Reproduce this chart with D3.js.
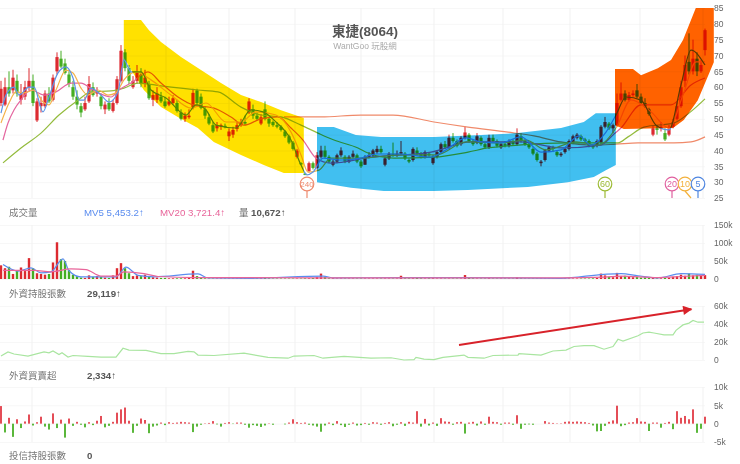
<!DOCTYPE html>
<html>
<head>
<meta charset="utf-8">
<script src="https://cdnjs.cloudflare.com/ajax/libs/d3/7.8.5/d3.min.js"></script>
<style>
  html, body { margin: 0; padding: 0; background: #fff; }
  svg { display: block; filter: blur(0.45px); }
  text { font-family: "Liberation Sans", "Noto Sans CJK TC", sans-serif; }
  .axis text { fill: #666; font-size: 8.5px; }
  .axis line { stroke: #f7f7f7; }
  .axis path { display: none; }
  .grid line { stroke: #f1f1f1; }
  .band { mix-blend-mode: multiply; }
</style>
</head>
<body>
<div id="chart"></div>
<script>
// daily candles, one entry per trading day
const opens = [55,54.5,60,59,62,56,57,60,62,49.5,54,54,58,56,65,69,67.5,64,60,57,
  54,53,55.5,60,58,57,53,55,52.5,55,62,71,66,60,62,64,61,61,56,56,
  57,55.5,54.5,55,55,52,50,50.5,53.7,59,57,53,50.5,48,47,47.5,47.8,44.5,45,46.8,
  48,49,52,53,51,48.5,53,50,49,48,47.5,46,44.5,42.5,38,36,32.7,33.5,36,34.5,
  38,40,38,35.5,36.5,38.5,38,36.5,38,38.5,36.5,35.5,38,38.5,39.5,40.5,35.5,37.5,39,38.5,
  39,39,37,37,40,39,38,39,36,38,39.5,42,41,44,43,42,44,45,43,42.5,
  44,42,41,44,43,41,42,41.5,43,42,44.5,43,42,40.5,39,36,37,40,41,39.5,
  38.5,39.5,40.5,42.5,44,44.5,43.5,43,41.5,41.5,42.5,47.5,48.5,47,48,56,58,56,57.5,59,
  57,55,53,45,47,47,45.5,45,47.5,50,54,62,68,65,69,65,71.7];
const closes = [59.5,60,58,63,58,58,60,62,55,55.5,55,58,55.5,63,69.5,66.5,64.5,61,57,54.5,
  52,55,61,57.5,58.5,54,54.5,53,55,62.5,71.5,66,62,62,64.5,61,63,56.5,57.5,58,
  55.5,54,55.5,56.5,52.5,50,51,51,58.2,55,53.5,51,48.5,46,48,48,47.5,46,46.5,48,
  49,48.5,55.5,51,50,50.5,50,48.5,48,47.5,46.5,44.5,42.5,40.5,40,35.7,32.4,36,34.5,38.5,
  40,38,36.5,36.5,38.5,40,36.5,38,39,36.5,35,38,38.5,40,40.5,39.5,37.5,39,38.5,39,
  39.5,37.5,36.5,40.5,39,38,39.5,38.5,38,39.5,42,41,44,43,41.5,44,45.7,43,42,44.5,
  42,41,44,43,41.5,42,41.5,43,42,45,43,42,41,39,37,36.5,40,41,40.5,38.5,
  39,40.5,43,44.5,45,43.5,43,41.5,41,43,47.5,49,47,48,55,58,56,57.5,58,57,
  55,54,51.5,47,46.5,47.5,43.5,47,49,54,60,67,65,69,65,67,78];
const highs = [62,63,65,65.5,64,61,62,66,64,56.5,57,59,60,64,71,71.5,69,65,62,59,
  55,57,63.5,61.5,60,58,55.5,56.5,56,63.5,73.3,72,67,63.5,67,66,65.5,62,59,60,
  58.5,57,57,57.5,56,53,52,53,59.5,59.5,58,54,51.5,49,49,48.5,48.5,47,47.5,49,
  50,51,56.5,54.5,52,51.5,55.5,50.5,49.5,49,48,46.5,45,43,40.5,36.3,33,36.5,36.5,39.5,
  41.5,41.5,38.5,37,39,41,38.5,38.5,40,39,37,38.5,39.5,40.5,41.5,41.5,38,39.5,42.5,40,
  43,39.5,37.5,41,41,39.5,40,39.5,38.5,40,42.5,43,45,45.5,43.5,44.5,47.6,45.5,43.5,45.5,
  44.5,42.5,45,45,43.5,42.5,43,43.5,43.5,47,45.5,43.5,42.5,41,39.5,37,40.5,41.5,41.5,40,
  39.5,41,43.5,45,45.5,45,44,43.5,42,43.5,48,50.6,49,48.5,58,61.5,59,58.5,59,61,
  58,56.5,53.5,48,48,49,47,48,50,55.5,62,70,77,75,71,68.5,78.5];
const lows = [54,54,57,58,57,54.5,56,59,54,49,52,53.5,55,55.5,64,66,64,60,56,53,
  50.5,52.5,55,57,57,53,51.5,52.5,52,54.5,61.5,65,61,59.5,61,60,60,56,54,55,
  55,53.5,54,54.5,52,49.5,49,50,53,54,53,50,48,45.5,46,46.5,47,43,44,46,
  47.5,48,51.5,50,49.5,48,49.5,47.5,47.5,47,46,44,42,40,37.5,35.4,32.2,33,34,34,
  37.5,37.5,36,35,36,38,36,36,37.5,36,34.5,35.5,37.5,38,39,39,35,37,38,38,
  38.5,37,36,36.5,38.5,37.5,37.5,38,35.5,37.5,39,40.5,40.5,42.5,41,41.5,43.5,42.5,41.5,42,
  41.5,40.5,40.5,42.5,41,40.5,41,41,41.5,41.5,42.5,41.5,40.5,38.5,36.5,35,36.5,39.5,39.5,38,
  38,39,40,42,43.5,43,42.5,41,40.5,41,42,47,46.5,45.5,47.5,55.5,55.5,55.5,57,56.5,
  54.5,53.5,51,44.5,45,46,43,44.5,47,49.5,53.5,60,64,64,63.5,64.5,70];

// moving averages at a few points each
const ma5Days = [0,1.25,3.25,4.5,7,8.25,10.5,12,14.25,16.25,18,19.5,20.75,22.5,25,27,29.25,30.75,32.5,35,37.5,41.25,46.25,48.75,51.25,53.75,58.75,62.5,65.5,68.75,72.5,75,76.5,78,80.5,85,90,93.75,100,107.5,111.25,116.25,120,125,130,135,140,144.5,147.5,151.25,153.75,156.25,160,163.75,167,170,172.5,176];
const ma5 = [51.8,57.5,60,57.5,60,60,52.2,56.9,64.5,66.4,62.9,55.9,55.9,59.7,57.5,55.3,58.5,68.6,64.8,64.8,59.1,56.6,51.2,54.4,52.8,48,47.1,52.8,52.2,49,43.3,35.4,32.3,33.2,37.6,37,37.6,38.9,38.9,37.9,40.2,44,42.7,42.4,44.3,39.5,40.2,44.6,41.7,45.8,51.2,56.9,55.9,48,46.5,60.7,71.7,67];
const ma10Days = [0,2,3.75,5.75,8.25,10.5,12,13.75,16.25,18,20,21.75,24.25,26.75,28.75,30.75,33.75,37.5,42.5,47.5,51.25,56.25,60,63.75,68.75,72.5,75,76.75,79.5,82.5,90,100,108.75,116.25,125,131.25,136.25,143.75,149.25,153.75,157.5,162.5,167,170.5,173.75,176];
const ma10 = [48.7,55,58.5,58.2,59.1,55.3,54.4,59.1,65.4,64.5,59.7,57.5,59.1,57.5,58.2,62.3,64.8,62.3,57.5,53.4,55,49,49,52.2,51.2,45.8,38.6,33.2,33.8,37.6,37.6,38.6,38.6,42.7,42.4,43.3,40.2,42.7,41.7,47.1,56,52.2,47.1,57.5,68,68];
const ma20Days = [0.5,1.75,3.25,5,7.5,10.75,13.75,17.5,20,23,27.5,29.5,32.5,36.75,40,44.25,48,53.25,57.5,60.75,65,69.25,72.5,75.5,78.75,82.5,92.5,107.5,117.5,130,140,150,153,155,160,167.5,172.5,176];
const ma20 = [43.3,48.7,52.8,56,59.1,57.5,58.5,61.3,61.3,59.1,56.9,59.1,61.3,64.8,61.3,56.9,54.4,53.4,50.6,48,50,50.6,47.1,43.3,37.6,36,37.9,39.5,42.7,42.7,40.8,41.7,44.9,47.1,54.4,54.4,60.7,62.9];
const ma60Days = [0.5,5,10,14.5,19.25,22.5,27.5,30.75,34.25,40,49.25,54.25,60,65,70,75,79.25,83.25,89.25,91.75,98.25,108.25,116.75,121.75,129.25,141.75,147.5,154.25,156.75,160.75,168.25,172,176];
const ma60 = [36.1,40.8,45.5,51.2,55.9,58.5,58.8,59.7,61.3,60.4,59.1,58.5,53.7,51.2,50.6,48,45.5,43.3,40.8,39.2,37.6,37.9,39.5,40.8,41.7,42.4,42.4,42.4,44.3,47.4,48.7,51.8,56.3];
const ma240Days = [70.75,80,90,98,108.25,116.75,126.75,133.25,140,148.25,153.75,159.25,168.25,172.5,176];
const ma240 = [50.6,50.6,51.2,51.2,49,47.4,45.8,44.6,42.7,41.7,42,42.4,42.4,42.7,44.3];

// hand painted highlight areas on the price panel
const yellowDays = [30.7,35,37,40,45,50,55,60,65,70,75.7,75.7,70.7,65.7,60,53.2,49.2,44.2,40,35.7,33,30.7];
const yellowPrices = [81.2,81.2,78,74.3,69.5,65.4,61.3,57.5,55.3,52.7,50.3,32.9,32.9,35.4,38.6,42.7,47.1,50.6,53.7,59.1,64.5,69.5];
const blueDays = [79,83.2,88.7,95,108.2,120,129.2,140,145.7,148.7,153.7,153.7,151.2,148.2,141.7,131.7,116.7,108.2,95.7,87.5,79];
const bluePrices = [47.4,47.4,44.9,44.3,44.3,44.9,45.5,47.1,49,51.8,51.8,35.4,33.8,31.6,30,28.5,27.5,27.2,27.2,28.2,30];
const orangeDays = [153.5,158,160,164.2,167.5,170.5,173.7,178.2,178.2,174.2,170.7,168,155.7,153.5];
const orangePrices = [65.7,65.7,63.8,66,68.6,74.9,85,85,67.9,55.9,49.6,47.1,46.8,48];

// volume in thousands
const volumes = [38,30,34,14,24,32,22,58,30,16,14,12,14,46,102,55,50,25,12,8,
  4,3,10,6,8,6,4,3,10,30,44,30,16,8,10,8,12,8,5,4,
  3,3,2,2,2,2,2,3,23,8,4,2,1.5,1.5,1.5,1.5,1.5,1.5,1.5,1.5,
  2,2,5,2,2,2,5,2,1.5,1.5,1.5,1.5,1.5,1.5,1.5,1.5,2,2,3,6,
  15,6,2,2,1.5,1.5,1.5,1.5,1.5,1.5,1.5,1.5,1.5,1.5,1.5,1.5,1.5,1.5,1.5,1.5,
  9,2,2,2,5,2,1.5,2,2,1.5,1.5,1.5,1.5,1.5,1.5,1.5,11,3,2,1.5,
  1.5,1.5,2,1.5,1.5,1.5,1.5,1.5,1.5,5,2,1.5,1.5,1.5,1.5,1.5,1.5,1.5,1.5,1.5,
  1.5,1.5,1.5,1.5,1.5,1.5,1.5,1.5,2,3,15,10,6,5,17,8,9,6,5,6,
  4,5,3,3,2,2,3,4,6,8,12,9,15,10,12,9,10.7];
const mv5Days = [0.5,4.25,7.5,10,12.5,15.5,17,20,25,28.75,31.25,34.25,38.25,49.25,51.75,62.5,80.5,83.25,100.5,116.5,140,150.75,155,159.25,164.25,170,176];
const mv5 = [40,22,31,17,20,56,23,6,6,6,33,10,6,14,3,2,8,3,4,4,2,13,15,9,3,15,13];
const mv20Days = [0.5,8.25,12.5,17.5,21.25,25,28.75,30.75,35.75,39.25,49.25,100,140,150.75,155,164.25,170,176];
const mv20 = [24,24,20,28,26,8,8,20,15,7,4,3,3,5,8,4,7,10];

// foreign holdings in thousands of lots
const holdDays = [0,1.75,3.25,6.75,10.75,12,13,14.5,15.25,16.75,18,21.75,25,28.75,30.5,32,36.25,40,43.25,46.75,48.25,49.25,53.25,60.75,66.75,71.75,73.25,78.25,80.5,85.75,92.5,97.5,100.75,103.25,103.75,105.75,108.25,110.5,115.75,116.75,120.75,123,129.25,129.5,135,138,141.25,143.25,145.75,148.25,150.75,153,154.25,155.5,159.25,160.5,162,163.25,165.75,168,168.75,170.5,172,173,174.25,175.75];
const holdings = [4.4,9,6.7,4.4,9,8,10,6,8,3.3,5,4,3.3,3.3,13,11,10.7,7,7,9.5,9,5.5,5,7.6,3,2,4.4,5,2,4,2,2.5,0,0.5,3,1,0.5,3,5.5,3,2,5,5.5,7,5.5,10,11,15,16,16,12,15,23,21,27,30,31,30,28,28,33,39,41,44,42,42];

// foreign net buy / sell in thousands
const foreignNet = [4.8,-2.4,1.6,-3.6,1.2,-1.2,0.6,2.5,-0.5,0.4,1.9,-0.8,-1.6,2.8,-1.2,1.1,-3.8,1.4,-0.6,0.5,
  -0.3,-1,0.4,-0.4,0.8,2.1,-1,-0.6,0.5,3,3.9,4.4,0.8,-2.5,-0.6,1.4,1,-2.6,-0.8,-0.5,
  0.3,-0.4,0.4,0.2,0.3,0.5,0.4,0.3,-2.3,-0.8,-0.3,0.1,0.2,0.7,-0.2,-0.8,0.2,0.4,-0.1,0.3,
  0.3,-0.3,-1.1,-0.4,-0.6,-0.9,-0.5,0.1,-0.3,0,0,-0.2,0.3,1.2,0.4,0.2,0.3,-0.3,-0.5,-0.8,
  -2.2,-0.5,0.3,-0.4,0.7,-0.4,-0.9,-0.3,0.3,-0.5,-0.4,0.2,-0.3,0.4,0.3,-0.3,0.2,0.4,-0.7,-0.3,
  0.4,-0.6,0.5,0.3,3.4,-0.8,1.3,-0.5,0.3,-0.6,1.5,0.6,0.5,-0.3,0.4,0.5,-2.7,0.3,0.5,-0.5,
  0.6,-0.3,1.9,0.5,0.4,-0.3,0.3,0.3,-0.3,2.3,-1.4,-0.3,-0.2,-0.3,0,0,0.7,0.3,0.2,0.1,
  0.1,0.5,0.6,0.5,0.6,0.5,0.4,0.2,-0.5,-2.1,-2,-0.6,0.5,0.9,4.9,-0.7,-0.4,0.3,0.4,1.5,
  0.6,0.5,-2,0.3,0.3,-1.1,0.2,0.5,-1.5,3.4,1.6,2.1,1.2,3.9,-2.5,-1.4,1.9];

const priceTicks = [85,80,75,70,65,60,55,50,45,40,35,30,25];
const volumeTicks = [0,50,100,150];
const holdingTicks = [0,20,40,60];
const netTicks = [-5,0,5,10];
const gridDays = [7.75,41.25,57,73.5,90,108.25,125.5,142.25,159.75,175.5];

const badgeLabels = ["240","60","20","10","5"];
const badgeDays = [76.5,151,167.75,171,174.25];
const badgeColors = ["#ee8a6e","#9dbb35","#e0609f","#f3b13c","#4f86e0"];
const arrowDays = [114.5,172.6];
const arrowValues = [16.7,56.5];

const width = 740, height = 464;
const red = "#dc2a30", green = "#45ad22";

const svg = d3.select("#chart").append("svg")
  .attr("width", width)
  .attr("height", height);
svg.append("rect").attr("width", width).attr("height", height).attr("fill", "#fff");

const x = d3.scaleLinear().domain([0, 176]).range([1, 705]);
const yPrice = d3.scaleLinear().domain([25, 85]).range([198, 8]);
const yVolume = d3.scaleLinear().domain([0, 150]).range([279, 225]);
const yHold = d3.scaleLinear().domain([0, 60]).range([360, 306]);
const yNet = d3.scaleLinear().domain([-5, 10]).range([442, 387]);

function drawPanel(scale, ticks, fmt, top, bottom) {
  svg.append("g").attr("class", "axis")
    .attr("transform", "translate(705,0)")
    .call(d3.axisRight(scale).tickValues(ticks).tickFormat(fmt).tickSize(-705).tickPadding(9));
  svg.append("g").attr("class", "grid")
    .selectAll("line").data(gridDays).enter().append("line")
    .attr("x1", d => x(d)).attr("x2", d => x(d))
    .attr("y1", top).attr("y2", bottom);
}

drawPanel(yPrice, priceTicks, d => d, 8, 198);
drawPanel(yVolume, volumeTicks, d => d === 0 ? "0" : d + "k", 225, 279);
drawPanel(yHold, holdingTicks, d => d === 0 ? "0" : d + "k", 306, 360);
drawPanel(yNet, netTicks, d => d === 0 ? "0" : d + "k", 387, 442);

// --- price panel ---
const candleColor = i => closes[i] >= opens[i] ? red : green;
const wicks = svg.append("g");
closes.forEach((c, i) => {
  wicks.append("line")
    .attr("x1", x(i)).attr("x2", x(i))
    .attr("y1", yPrice(highs[i])).attr("y2", yPrice(lows[i]))
    .attr("stroke", candleColor(i)).attr("stroke-width", 1);
  wicks.append("rect")
    .attr("x", x(i) - 1.6).attr("width", 3.2)
    .attr("y", yPrice(Math.max(opens[i], c)))
    .attr("height", Math.max(Math.abs(yPrice(opens[i]) - yPrice(c)), 1.2))
    .attr("fill", candleColor(i));
});

function maLine(days, vals, yScale, color, sw) {
  const line = d3.line()
    .x((d, i) => x(days[i]))
    .y(d => yScale(d))
    .curve(d3.curveMonotoneX);
  svg.append("path").datum(vals)
    .attr("d", line).attr("fill", "none")
    .attr("stroke", color).attr("stroke-width", sw || 1.2);
}

maLine(ma240Days, ma240, yPrice, "#f08a6a");
maLine(ma60Days, ma60, yPrice, "#93bb3c");
maLine(ma20Days, ma20, yPrice, "#e4669f");
maLine(ma10Days, ma10, yPrice, "#f4b24a");
maLine(ma5Days, ma5, yPrice, "#5b94e6");

function band(days, prices, color) {
  const line = d3.line().x((d, i) => x(days[i])).y(d => yPrice(d));
  svg.append("path").datum(prices)
    .attr("class", "band")
    .attr("d", line(prices) + "Z")
    .attr("fill", color);
}
band(yellowDays, yellowPrices, "#ffe100");
band(blueDays, bluePrices, "#41bff0");
band(orangeDays, orangePrices, "#ff6200");

// period badges
badgeLabels.forEach((label, i) => {
  const cx = x(badgeDays[i]);
  const g = svg.append("g");
  const tail = label === "10" ? 6 : 0;
  g.append("line").attr("x1", cx).attr("x2", cx + tail).attr("y1", 191).attr("y2", 198)
    .attr("stroke", badgeColors[i]).attr("stroke-width", 1.2);
  g.append("circle").attr("cx", cx).attr("cy", 184).attr("r", 6.8)
    .attr("fill", "#fff").attr("fill-opacity", 0.75)
    .attr("stroke", badgeColors[i]).attr("stroke-width", 1.2);
  g.append("text").attr("x", cx).attr("y", 187.2).attr("text-anchor", "middle")
    .attr("font-size", label.length > 2 ? 8 : 9).attr("fill", badgeColors[i]).text(label);
});

// --- volume panel ---
svg.append("g").selectAll("rect").data(volumes).enter().append("rect")
  .attr("x", (d, i) => x(i) - 1.2).attr("width", 2.4)
  .attr("y", d => yVolume(d))
  .attr("height", d => yVolume(0) - yVolume(d))
  .attr("fill", (d, i) => candleColor(i));
maLine(mv5Days, mv5, yVolume, "#5b8def");
maLine(mv20Days, mv20, yVolume, "#e8659a");

// --- foreign holdings ---
svg.append("path").datum(holdings)
  .attr("d", d3.line().x((d, i) => x(holdDays[i])).y(d => yHold(d)))
  .attr("fill", "none").attr("stroke", "#a9e5a0").attr("stroke-width", 1.2);

svg.append("defs").append("marker")
  .attr("id", "head").attr("viewBox", "0 0 10 10")
  .attr("refX", 9).attr("refY", 5)
  .attr("markerWidth", 5.5).attr("markerHeight", 4.6)
  .attr("orient", "auto")
  .append("path").attr("d", "M0,0L10,5L0,10Z").attr("fill", "#d8222a");
svg.append("line")
  .attr("x1", x(arrowDays[0])).attr("y1", yHold(arrowValues[0]))
  .attr("x2", x(arrowDays[1])).attr("y2", yHold(arrowValues[1]))
  .attr("stroke", "#d8222a").attr("stroke-width", 2)
  .attr("marker-end", "url(#head)");

// --- foreign net ---
svg.append("g").selectAll("rect").data(foreignNet).enter().append("rect")
  .attr("x", (d, i) => x(i) - 0.9).attr("width", 1.8)
  .attr("y", d => yNet(Math.max(d, 0)))
  .attr("height", d => Math.abs(yNet(d) - yNet(0)))
  .attr("fill", d => d >= 0 ? "#e23a45" : "#49b026");

// --- titles ---
function label(tx, ty, str, size, color, weight, anchor) {
  svg.append("text").attr("x", tx).attr("y", ty)
    .attr("font-size", size).attr("fill", color)
    .attr("font-weight", weight || "normal")
    .attr("text-anchor", anchor || "start")
    .text(str);
}
label(365, 36, "東捷(8064)", 13.5, "#555", "bold", "middle");
label(365, 49, "WantGoo 玩股網", 8.5, "#aaa", "normal", "middle");

label(9, 216, "成交量", 9.5, "#777");
label(84, 216, "MV5 5,453.2↑", 9.7, "#5b8def");
label(160, 216, "MV20 3,721.4↑", 9.7, "#e8659a");
label(239, 216, "量", 9.5, "#666");
label(251, 216, "10,672↑", 9.7, "#555", "bold");
label(9, 297, "外資持股張數", 9.5, "#777");
label(87, 297, "29,119↑", 9.7, "#555", "bold");
label(9, 379, "外資買賣超", 9.5, "#777");
label(87, 379, "2,334↑", 9.7, "#555", "bold");
label(9, 459, "投信持股張數", 9.5, "#777");
label(87, 459, "0", 9.7, "#555", "bold");
</script>
</body>
</html>
